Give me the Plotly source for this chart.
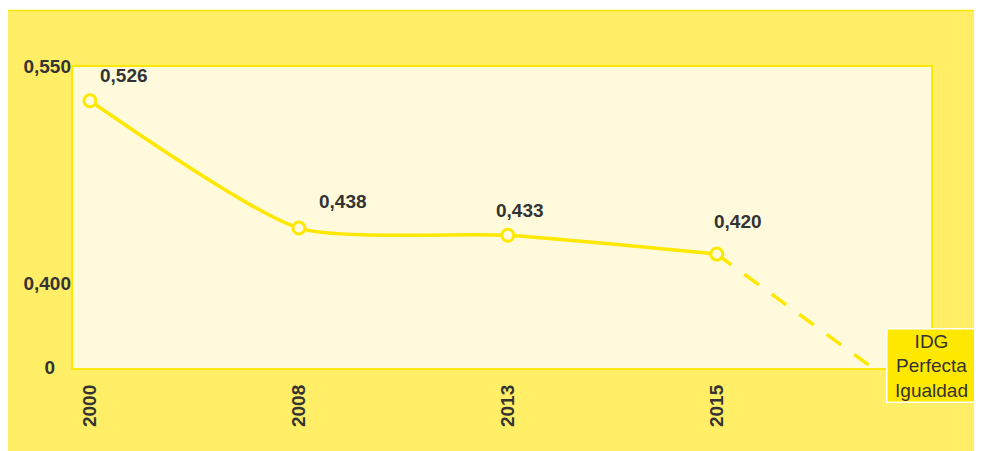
import plotly.graph_objects as go

# ---- data ----
years = ["2000", "2008", "2013", "2015"]
idg = [0.526, 0.438, 0.433, 0.420]
target_value = 0.0
target_label = "IDG<br>Perfecta<br>Igualdad"
y_tick_values = [0.0, 0.400, 0.550]
y_tick_labels = ["0", "0,400", "0,550"]

# ---- styling / layout constants ----
Y_BREAK = 0.342          # broken-axis position used for the value 0
Y_RANGE = [0.3406, 0.55]
X_RANGE = [-0.086, 4.03]
TARGET_POS = 3.74        # horizontal position of the "perfect equality" target
LINE_C = "#FFE800"
OUTER_C = "#FFEE66"
INNER_C = "#FFFADC"
TEXT_C = "#333333"
FONT = "Liberation Sans, Arial, sans-serif"


def axis_pos(v):
    return v if v > 0 else Y_BREAK


def fmt(v):
    return f"{v:.3f}".replace(".", ",")


xs = list(range(len(years)))
ys = [axis_pos(v) for v in idg]

fig = go.Figure()

# dashed projection to perfect equality
fig.add_trace(go.Scatter(
    x=[xs[-1], TARGET_POS], y=[ys[-1], axis_pos(target_value)],
    mode="lines", line=dict(color=LINE_C, width=3.5, dash="18px,16px"),
    hoverinfo="skip", showlegend=False))

# main series
fig.add_trace(go.Scatter(
    x=xs, y=ys, mode="lines+markers",
    line=dict(color=LINE_C, width=3.5, shape="spline", smoothing=0.6),
    marker=dict(size=12, color=INNER_C, line=dict(color=LINE_C, width=3)),
    cliponaxis=False, showlegend=False))

# value labels
xshifts = [8, 18, -14, -5]
yshifts = [13, 14, 12, 20]
for x, y, v, dx, dy in zip(xs, ys, idg, xshifts, yshifts):
    fig.add_annotation(x=x, y=y, text=f"<b>{fmt(v)}</b>", showarrow=False,
                       xanchor="left", yanchor="bottom", xshift=dx, yshift=dy,
                       font=dict(family=FONT, size=19, color=TEXT_C))

# target box
fig.add_annotation(xref="paper", yref="paper", x=0.999, y=0.013,
                   xanchor="center", yanchor="middle", text=target_label,
                   showarrow=False, align="center", width=86,
                   font=dict(family=FONT, size=19, color=TEXT_C),
                   bgcolor=LINE_C, bordercolor="white", borderwidth=1.5,
                   borderpad=1)

# backgrounds: thin white strip on top, yellow frame line, inner panel
fig.add_shape(type="rect", xref="paper", yref="paper",
              x0=-0.1, x1=1.1, y0=1.185, y1=1.3,
              fillcolor="white", line=dict(width=0), layer="below")
fig.add_shape(type="line", xref="paper", yref="paper",
              x0=-0.0744, x1=1.1, y0=1.183, y1=1.183,
              line=dict(color=LINE_C, width=1.5), layer="below")
fig.add_shape(type="rect", xref="paper", yref="paper",
              x0=0, x1=1, y0=0, y1=1,
              fillcolor=INNER_C, line=dict(color=LINE_C, width=2), layer="below")

ticktext = [t + ("\u00a0" * 3 if t == "0" else "") for t in y_tick_labels]

fig.update_layout(
    width=974, height=443,
    margin=dict(l=64, r=50, t=58, b=82),
    paper_bgcolor=OUTER_C, plot_bgcolor="rgba(0,0,0,0)",
    font=dict(family=FONT, color=TEXT_C),
    xaxis=dict(range=X_RANGE, tickvals=xs, ticktext=[f"<b>{y}</b>" for y in years],
               tickangle=-90, showgrid=False, zeroline=False, showline=False,
               ticks="", ticklabelstandoff=11,
               tickfont=dict(family=FONT, size=19, color=TEXT_C)),
    yaxis=dict(range=Y_RANGE, tickvals=[axis_pos(v) for v in y_tick_values],
               ticktext=[f"<b>{t}</b>" for t in ticktext],
               showgrid=False, zeroline=False, showline=False, ticks="",
               ticklabelstandoff=0,
               tickfont=dict(family=FONT, size=19, color=TEXT_C)),
)

fig.write_html("out.html")
